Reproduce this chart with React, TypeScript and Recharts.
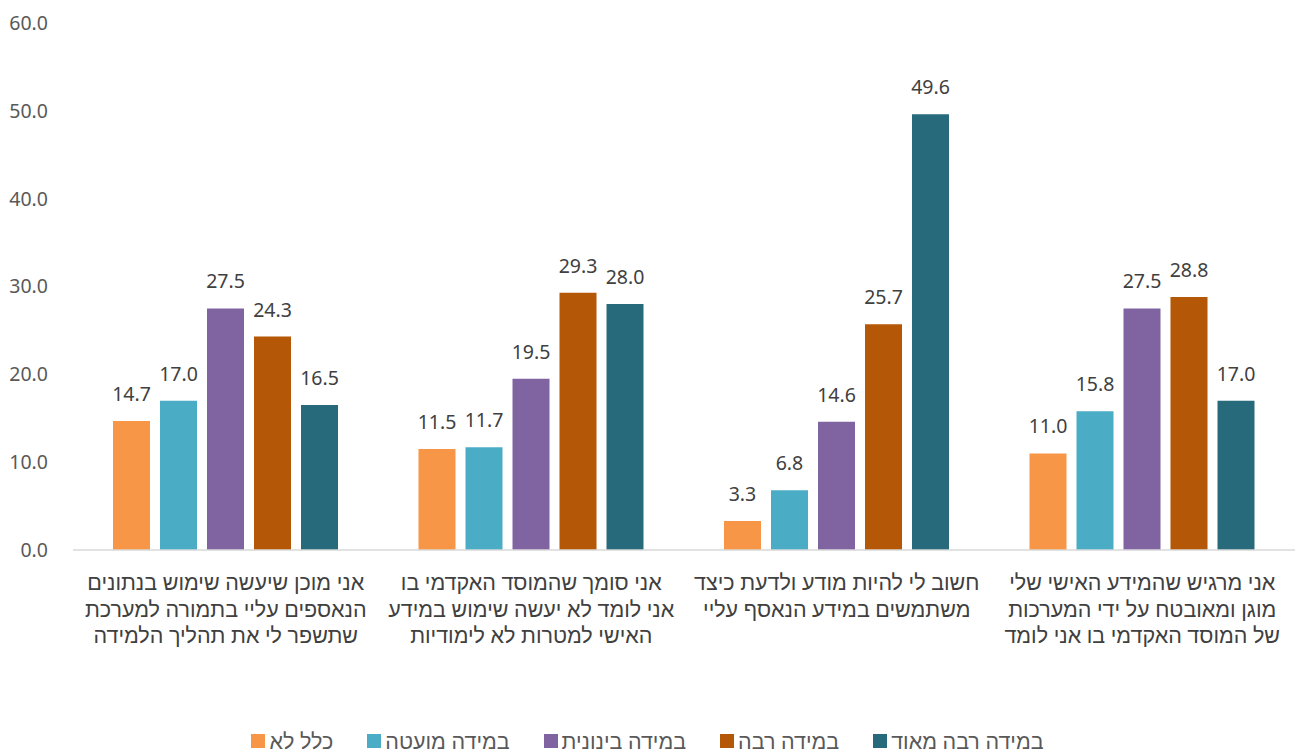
import { BarChart, Bar, XAxis, YAxis, Legend, LabelList } from "recharts";

// categories, left to right as drawn
const categories = [
  ["אני מוכן שיעשה שימוש בנתונים", "הנאספים עליי בתמורה למערכת", "שתשפר לי את תהליך הלמידה"],
  ["אני סומך שהמוסד האקדמי בו", "אני לומד לא יעשה שימוש במידע", "האישי למטרות לא לימודיות"],
  ["חשוב לי להיות מודע ולדעת כיצד", "משתמשים במידע הנאסף עליי"],
  ["אני מרגיש שהמידע האישי שלי", "מוגן ומאובטח על ידי המערכות", "של המוסד האקדמי בו אני לומד"],
];

const seriesNames = ["כלל לא", "במידה מועטה", "במידה בינונית", "במידה רבה", "במידה רבה מאוד"];
const seriesColors = ["#F79646", "#4BACC6", "#8064A2", "#B45706", "#276A7C"];

const notAtAll = [14.7, 11.5, 3.3, 11.0];
const little = [17.0, 11.7, 6.8, 15.8];
const medium = [27.5, 19.5, 14.6, 27.5];
const much = [24.3, 29.3, 25.7, 28.8];
const veryMuch = [16.5, 28.0, 49.6, 17.0];

const yTicks = [0, 10, 20, 30, 40, 50, 60];

const seriesValues = [notAtAll, little, medium, much, veryMuch];

const data = categories.map((lines, i) => {
  const row: any = { name: String(i) };
  seriesValues.forEach((vals, s) => {
    row["s" + s] = vals[i];
  });
  return row;
});

const FONT = "'Noto Sans', 'Liberation Sans', sans-serif";

const CategoryTick = (props: any) => {
  const { x, y, payload } = props;
  const lines = categories[Number(payload.value)] || [];
  return (
    <g>
      {lines.map((line, i) => (
        <text
          key={i}
          x={x}
          y={y + 32 + i * 26.5}
          textAnchor="middle"
          fill="#404040"
          fontSize={21.5}
          fontFamily={FONT}
        >
          {line}
        </text>
      ))}
    </g>
  );
};

const LegendContent = () => (
  <div
    style={{
      display: "flex",
      justifyContent: "center",
      height: 30,
      paddingTop: 6,
      boxSizing: "border-box",
      fontFamily: FONT,
      fontSize: 21.5,
      color: "#595959",
      lineHeight: "22px",
    }}
  >
    {seriesNames.map((n, i) => (
      <div key={n} style={{ display: "flex", alignItems: "center", marginRight: i < 4 ? 34 : 0 }}>
        <span style={{ width: 14, height: 14, background: seriesColors[i], marginRight: 4, display: "inline-block" }} />
        <span>{n}</span>
      </div>
    ))}
  </div>
);

export default function App() {
  return (
    <div style={{ position: "absolute", left: 0, top: 0, width: 1295, height: 753, background: "#fff" }}>
      <BarChart
        width={1295}
        height={753}
        data={data}
        margin={{ top: 23, right: 0, left: 0, bottom: 0 }}
        barSize={37}
        barGap={10}
      >
        <XAxis
          dataKey="name"
          axisLine={{ stroke: "#D9D9D9", strokeWidth: 1.5 }}
          tickLine={false}
          height={173}
          tick={<CategoryTick />}
          interval={0}
        />
        <YAxis
          domain={[0, 60]}
          ticks={yTicks}
          width={73}
          axisLine={false}
          tickLine={false}
          tickMargin={19}
          tickFormatter={(v: number) => v.toFixed(1)}
          tick={{ fill: "#595959", fontSize: 19.5, fontFamily: FONT }}
        />
        <Legend verticalAlign="bottom" content={<LegendContent />} wrapperStyle={{ bottom: 0 }} />
        {seriesNames.map((n, i) => (
          <Bar key={n} dataKey={"s" + i} name={n} fill={seriesColors[i]} isAnimationActive={false}>
            <LabelList
              dataKey={"s" + i}
              position="top"
              offset={20}
              formatter={(v: any) => Number(v).toFixed(1)}
              style={{ fill: "#404040", fontSize: 19.5, fontFamily: FONT }}
            />
          </Bar>
        ))}
      </BarChart>
    </div>
  );
}
